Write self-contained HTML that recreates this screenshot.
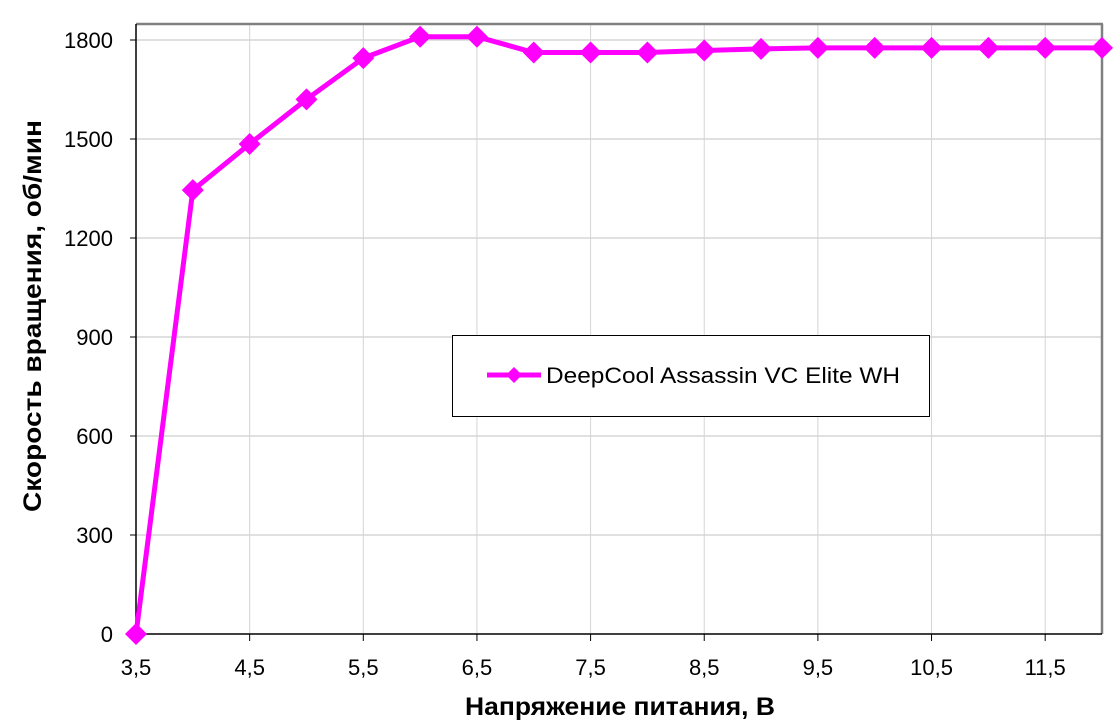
<!DOCTYPE html>
<html><head><meta charset="utf-8"><style>
body{margin:0;background:#fff;}
svg{display:block;font-family:"Liberation Sans",Arial,sans-serif;}
</style></head><body>
<svg id="chart" width="1120" height="728" viewBox="0 0 1120 728" xmlns="http://www.w3.org/2000/svg">
<g id="grid"></g>
<g id="axes"></g>
<g id="series"></g>
<rect x="452.5" y="335.5" width="477" height="81" fill="#fff" stroke="#000" stroke-width="1"/>
<g>
<line x1="487" y1="375" x2="541" y2="375" stroke="#ff00ff" stroke-width="5"/>
<path d="M514 367 L522 375 L514 383 L506 375 Z" fill="#ff00ff"/>
<text x="546" y="383" font-size="22" textLength="354" lengthAdjust="spacingAndGlyphs" fill="#000">DeepCool Assassin VC Elite WH</text>
</g>
<text transform="translate(41,316) rotate(-90)" text-anchor="middle" font-size="25" font-weight="bold" textLength="392" lengthAdjust="spacingAndGlyphs">Скорость вращения, об/мин</text>
<text x="620" y="715" text-anchor="middle" font-size="25" font-weight="bold" textLength="310" lengthAdjust="spacingAndGlyphs">Напряжение питания, В</text>
</svg>
<script>
const voltages=[3.5,4,4.5,5,5.5,6,6.5,7,7.5,8,8.5,9,9.5,10,10.5,11,11.5,12];
const rpm=[0,1345,1485,1620,1745,1810,1810,1762,1762,1762,1768,1773,1776,1776,1776,1776,1776,1776];
const yTicks=[0,300,600,900,1200,1500,1800];
const xTicks=[3.5,4.5,5.5,6.5,7.5,8.5,9.5,10.5,11.5];
const xTickLabels=["3,5","4,5","5,5","6,5","7,5","8,5","9,5","10,5","11,5"];

const L=136,R=1102,T=24,B=634;
const xs=v=>L+(v-3.5)*(R-L)/8.5;
const ys=v=>B-v*(B-40)/1800;
const NS="http://www.w3.org/2000/svg";
function mk(tag,attrs,parent){const e=document.createElementNS(NS,tag);for(const k in attrs)e.setAttribute(k,attrs[k]);parent.appendChild(e);return e;}
const grid=document.getElementById('grid'),axes=document.getElementById('axes'),ser=document.getElementById('series');
yTicks.forEach(t=>{
 if(t>0){const g=mk('line',{x1:L,x2:R,y1:ys(t),y2:ys(t),stroke:'#c0c0c0','stroke-width':1},grid);
 
 }
 mk('line',{x1:L-6,x2:L,y1:ys(t),y2:ys(t),stroke:'#000','stroke-width':1},axes);
 const tx=mk('text',{x:L-23,y:ys(t)+8,'text-anchor':'end','font-size':22},axes);
 tx.textContent=t;
 
 
});
xTicks.forEach((t,i)=>{
 if(t>3.5){const g=mk('line',{x1:xs(t),x2:xs(t),y1:T,y2:B,stroke:'#d4d4d4','stroke-width':1},grid);
 
 }
 mk('line',{x1:xs(t),x2:xs(t),y1:B,y2:B+7,stroke:'#000','stroke-width':1},axes);
 const tx=mk('text',{x:xs(t),y:B+41,'text-anchor':'middle','font-size':22},axes);
 tx.textContent=xTickLabels[i];
 
 
});
mk('line',{x1:L,x2:R+1,y1:T,y2:T,stroke:'#808080','stroke-width':2.5},axes);
mk('line',{x1:R,x2:R,y1:T,y2:B,stroke:'#808080','stroke-width':2.5},axes);
mk('line',{x1:L,x2:L,y1:T,y2:B,stroke:'#000','stroke-width':1.5},axes);
mk('line',{x1:L,x2:R,y1:B,y2:B,stroke:'#000','stroke-width':1.5},axes);
const pts=voltages.map((v,i)=>xs(v)+','+ys(rpm[i])).join(' ');
const pl=mk('polyline',{points:pts,fill:'none',stroke:'#ff00ff','stroke-width':5,'stroke-linejoin':'round'},ser);


voltages.forEach((v,i)=>{
 const x=xs(v),y=ys(rpm[i]);
 const p=mk('path',{d:`M${x} ${y-11} L${x+11} ${y} L${x} ${y+11} L${x-11} ${y} Z`,fill:'#ff00ff'},ser);
 
 
});
</script>
</body></html>
